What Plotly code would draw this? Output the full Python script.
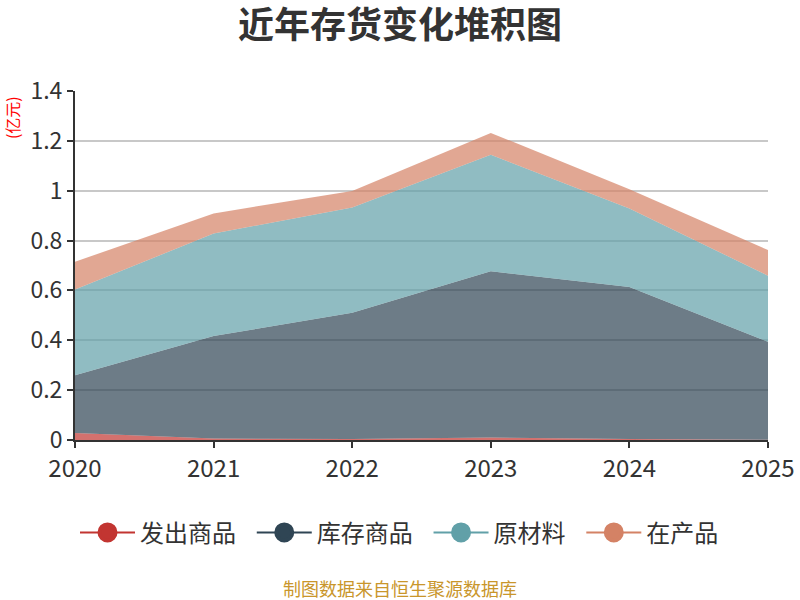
import plotly.graph_objects as go

# 年份与各项存货（亿元），按堆积顺序自下而上
years = [2020, 2021, 2022, 2023, 2024, 2025]
fachu = [0.028, 0.006, 0.004, 0.010, 0.004, 0.001]      # 发出商品
kucun = [0.232, 0.411, 0.506, 0.667, 0.610, 0.393]      # 库存商品
yuancailiao = [0.344, 0.411, 0.423, 0.467, 0.315, 0.265]  # 原材料
zaichanpin = [0.111, 0.081, 0.066, 0.088, 0.077, 0.103]   # 在产品

names = ["发出商品", "库存商品", "原材料", "在产品"]
series = [fachu, kucun, yuancailiao, zaichanpin]
colors = ["#c23531", "#2f4554", "#61a0a8", "#d48265"]
fills = ["rgba(194,53,49,0.7)", "rgba(47,69,84,0.7)",
         "rgba(97,160,168,0.7)", "rgba(212,130,101,0.7)"]

FONT = "Noto Sans CJK SC"

fig = go.Figure()

for name, vals, fc in zip(names, series, fills):
    fig.add_trace(go.Scatter(
        x=years, y=vals, name=name,
        mode="lines", line=dict(width=0),
        stackgroup="one", fillcolor=fc,
        showlegend=False
    ))

# 图例用的占位系列（线+圆点），名称后补空格拉开间距
for i, (name, c) in enumerate(zip(names, colors)):
    pad = "\u00a0\u00a0" if i < len(names) - 1 else ""
    fig.add_trace(go.Scatter(
        x=[None], y=[None], name=name + pad,
        mode="lines+markers",
        line=dict(color=c, width=2),
        marker=dict(color=c, size=16, line=dict(color=c, width=4)),
        showlegend=True
    ))

fig.update_layout(
    width=800, height=600,
    paper_bgcolor="white", plot_bgcolor="white",
    margin=dict(l=75, r=32, t=91, b=160),
    font=dict(family=FONT, color="#333"),
    title=dict(text="<b>近年存货变化堆积图</b>", x=0.5, xanchor="center",
               y=0.958, yanchor="middle",
               font=dict(size=36, color="#333", family=FONT)),
    legend=dict(orientation="h", x=0.0, xanchor="left", y=-0.266, yanchor="middle",
                font=dict(size=24, color="#333"), itemwidth=55,
                traceorder="normal"),
    showlegend=True
)

fig.update_xaxes(
    range=[2020, 2025], tickvals=years, ticktext=[str(y) for y in years],
    showgrid=False, showline=True, linecolor="#333", linewidth=2,
    ticks="outside", ticklen=6, tickcolor="#333", tickwidth=2,
    tickfont=dict(size=24, color="#333"), zeroline=False, automargin=False
)
fig.update_yaxes(
    range=[0, 1.4], dtick=0.2,
    showgrid=True, gridcolor="#c8c8c8", gridwidth=2,
    showline=True, linecolor="#333", linewidth=2,
    ticks="outside", ticklen=6, tickcolor="#333", tickwidth=2,
    tickfont=dict(size=23, color="#333"), zeroline=False, automargin=False
)

fig.add_annotation(
    text="(亿元)", xref="paper", yref="paper",
    x=-0.091, y=0.925, xanchor="center", yanchor="middle",
    textangle=-90, showarrow=False,
    font=dict(size=16, color="red", family=FONT)
)
fig.add_annotation(
    text="制图数据来自恒生聚源数据库", xref="paper", yref="paper",
    x=0.469, y=-0.425, xanchor="center", yanchor="middle",
    showarrow=False, font=dict(size=18, color="#c9962b", family=FONT)
)

fig.write_html("out.html", config={"displayModeBar": False},
               post_script="document.body.style.margin='0';")
